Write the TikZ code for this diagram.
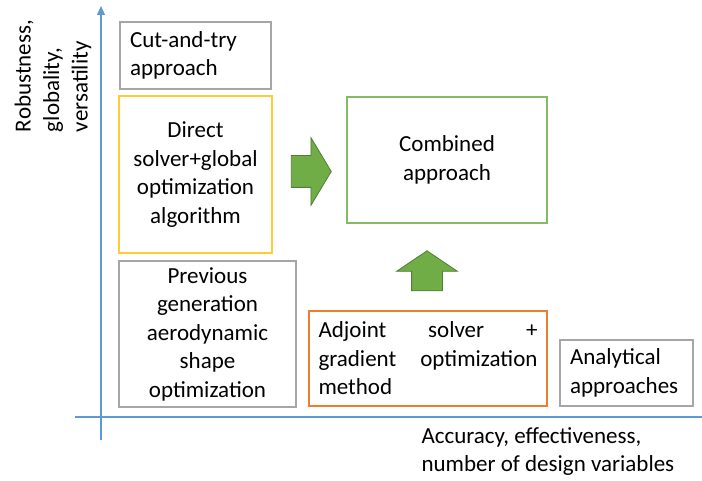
\documentclass[tikz,border=0pt]{standalone}
\usepackage{fontspec}
\setmainfont{Carlito}
\usepackage{tikz}
\usetikzlibrary{arrows.meta,positioning,shapes.arrows}

\definecolor{axisblue}{HTML}{5B9BD5}
\definecolor{boxgray}{HTML}{A6A6A6}
\definecolor{boxgold}{HTML}{FFC000}
\definecolor{boxgreen}{HTML}{70AD47}
\definecolor{boxorange}{HTML}{ED7D31}
\definecolor{arrowfill}{HTML}{70AD47}
\definecolor{arrowdraw}{HTML}{507E32}

\begin{document}
\begin{tikzpicture}[
  x=1pt,y=-1pt,
  font=\fontsize{23}{28.5}\selectfont,
  box/.style={rectangle,draw=boxgray,line width=1.8pt,inner sep=0pt,align=center},
  fatarrow/.style={single arrow,draw=arrowdraw,fill=arrowfill,line width=0.8pt,inner sep=0pt},
  axis/.style={draw=axisblue,line width=1.3pt}]
\useasboundingbox (0,0) rectangle (702,481);

% axes
\coordinate (o1) at (101,440);
\coordinate (ytop) at (101,6);
\coordinate (o2) at (75,417);
\coordinate (xend) at (702,417);
\draw[axis,-{Triangle[length=9pt,width=8pt]}] (o1)--(ytop);
\draw[axis] (o2)--(xend);

% boxes
\node[box,minimum width=151,minimum height=67,text width=131,align=left] (cut) at (195.5,55.5) {Cut-and-try\\approach};
\node[box,draw=boxgold!80,minimum width=153,minimum height=157] (direct) at (195.5,174.5) {Direct\\solver+global\\optimization\\algorithm};
\node[box,minimum width=177,minimum height=146] (prev) at (207.5,334) {Previous\\generation\\aerodynamic\\shape\\optimization};
\node[box,draw=boxgreen!85,minimum width=200,minimum height=126] (comb) at (447,160) {Combined\\approach};
\node[box,draw=boxorange,minimum width=238,minimum height=95,text width=219,align=justify] (adj) at (428,358.5) {Adjoint solver +\linebreak gradient optimization\linebreak method};
\node[box,minimum width=133,minimum height=66,text width=113,align=left] (anal) at (626.5,373) {Analytical\\approaches};

% block arrows (the rule sets the shaft thickness)
\node[fatarrow,minimum height=40,single arrow head extend=18,single arrow tip angle=118] (toright) at (306.5,171.5) {\rule{0pt}{31pt}};
\node[fatarrow,shape border rotate=90,minimum height=40,single arrow head extend=15,single arrow tip angle=112] (toup) at (427,276) {\rule{30pt}{0pt}};

% axis labels
\node[rotate=90,align=left,anchor=center] (ylab) at (53,76) {Robustness,\\globality,\\versatility};
\node[align=left,anchor=north west] (xlab) at (418,424) {Accuracy, effectiveness,\\number of design variables};
\end{tikzpicture}
\end{document}
